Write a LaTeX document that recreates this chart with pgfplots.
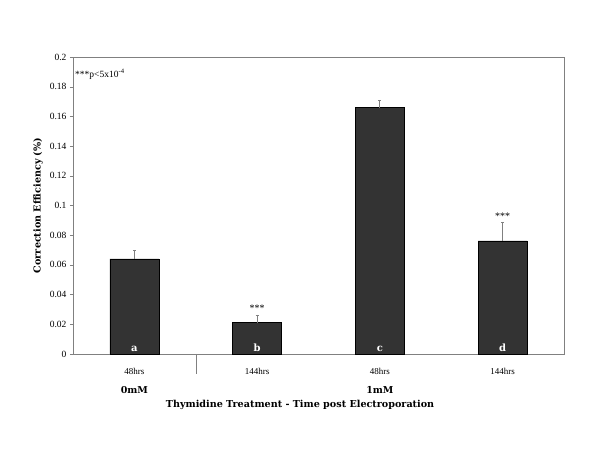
\documentclass[border=0pt]{standalone}
\usepackage{pgfplots}
\pgfplotsset{compat=1.18}
\usepackage{fontspec}
\setmainfont{Liberation Serif}
\newfontfamily\boldlab{DejaVu Serif}
\definecolor{barc}{HTML}{333333}
\definecolor{axc}{HTML}{808080}
\begin{document}
\begin{tikzpicture}[x=1pt,y=1pt]
\path[use as bounding box] (0,0) rectangle (600,450);
\begin{axis}[
  at={(73pt,96pt)}, anchor=south west,
  scale only axis, width=491pt, height=297pt,
  xmin=-0.5, xmax=3.5, ymin=0, ymax=0.2,
  axis line style={axc},
  ytick={0,0.02,...,0.2},
  yticklabel style={font=\fontsize{9.5}{10}\selectfont, /pgf/number format/fixed, /pgf/number format/precision=2},
  /pgf/number format/assume math mode=true,
  ytick style={axc},
  major tick length=3pt,
  tick align=outside,
  ytick pos=left, xtick pos=bottom,
  xtick={0,1,2,3},
  xticklabels={48hrs,144hrs,48hrs,144hrs},
  xticklabel style={font=\fontsize{9}{10}\selectfont, yshift=-8pt},
  xtick style={draw=none},
  minor xtick={0.5,1.5,2.5,3.5},
  minor tick length=3pt,
  minor x tick style={axc},
  clip=false,
]
\addplot[ybar, bar width=49pt, fill=barc, draw=black,
  error bars/.cd, y dir=plus, y explicit, error bar style={axc, line width=0.8pt}, error mark options={axc, mark size=1.5pt, rotate=90}]
  coordinates {(0,0.0641) +- (0,0.0055) (1,0.0211) +- (0,0.0053) (2,0.1659) +- (0,0.0051) (3,0.0761) +- (0,0.0126)};
\draw[axc] (axis cs:0.5,0) -- ([yshift=-20pt]axis cs:0.5,0);
\node[text=white, font=\boldlab\bfseries\fontsize{10}{11}\selectfont, above, inner sep=2pt] at (axis cs:0,0) {a};
\node[text=white, font=\boldlab\bfseries\fontsize{10}{11}\selectfont, above, inner sep=2pt] at (axis cs:1,0) {b};
\node[text=white, font=\boldlab\bfseries\fontsize{10}{11}\selectfont, above, inner sep=2pt] at (axis cs:2,0) {c};
\node[text=white, font=\boldlab\bfseries\fontsize{10}{11}\selectfont, above, inner sep=2pt] at (axis cs:3,0) {d};
\node[font=\fontsize{10}{11}\selectfont] at (axis cs:1,0.0305) {***};
\node[font=\fontsize{10}{11}\selectfont] at (axis cs:3,0.0928) {***};
\node[font=\fontsize{9.5}{10}\selectfont, anchor=west, inner sep=2pt] at (axis cs:-0.5,0.1885) {***p<5x10\textsuperscript{-4}};
\node[font=\boldlab\bfseries\fontsize{9.5}{10}\selectfont] at ([yshift=-36pt]axis cs:0,0) {0mM};
\node[font=\boldlab\bfseries\fontsize{9.5}{10}\selectfont] at ([yshift=-36pt]axis cs:2,0) {1mM};
\node[font=\boldlab\bfseries\fontsize{9.6}{10}\selectfont] at ([yshift=-51pt]axis cs:1.35,0) {Thymidine Treatment - Time post Electroporation};
\node[font=\boldlab\bfseries\fontsize{9.6}{10}\selectfont, rotate=90] at ([xshift=-35pt]axis cs:-0.5,0.1) {Correction Efficiency (\%)};
\end{axis}
\end{tikzpicture}
\end{document}
